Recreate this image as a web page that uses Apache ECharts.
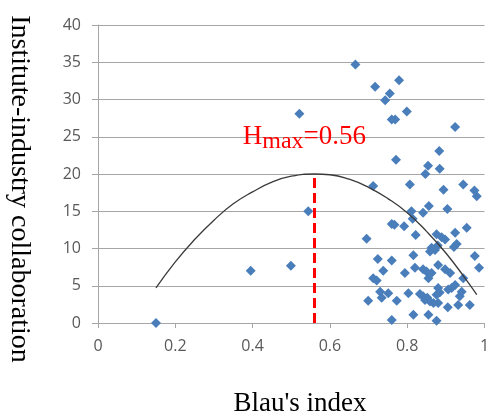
<!DOCTYPE html>
<html lang="en">
<head>
    <meta charset="UTF-8"/>
    <title>Blau's index vs collaboration</title>
    <script src="https://cdn.jsdelivr.net/npm/echarts@6/dist/echarts.min.js"></script>
    <style>
        html, body { margin: 0; padding: 0; background: #fff; }
        #main { width: 486px; height: 418px; }
    </style>
</head>
<body>
<div id="main"></div>
<script type="text/javascript">
    // scatter points: [Blau's index, collaboration]
    var blauIndex = [
        0.150, 0.395, 0.499, 0.544, 0.521, 0.666, 0.717, 0.779, 0.755, 0.743,
        0.799, 0.760, 0.769, 0.924, 0.771, 0.883, 0.854, 0.884, 0.847, 0.807,
        0.712, 0.945, 0.894, 0.974, 0.980, 0.856, 0.811, 0.841, 0.904, 0.814,
        0.760, 0.767, 0.792, 0.695, 0.822, 0.876, 0.889, 0.898, 0.924, 0.954,
        0.928, 0.921, 0.863, 0.872, 0.859, 0.879, 0.816, 0.975, 0.724, 0.760,
        0.880, 0.820, 0.841, 0.850, 0.863, 0.855, 0.898, 0.911, 0.986, 0.738,
        0.794, 0.945, 0.712, 0.721, 0.699, 0.730, 0.751, 0.734, 0.773, 0.803,
        0.833, 0.841, 0.852, 0.846, 0.859, 0.868, 0.880, 0.924, 0.915, 0.906,
        0.880, 0.884, 0.941, 0.936, 0.905, 0.932, 0.962, 0.816, 0.855, 0.760,
        0.876, 0.876
    ];
    var collaboration = [
        0.0, 7.0, 7.7, 15.0, 28.1, 34.7, 31.7, 32.6, 30.8, 29.9,
        28.4, 27.3, 27.3, 26.3, 21.9, 23.1, 21.1, 20.7, 20.0, 18.6,
        18.4, 18.6, 17.9, 17.8, 17.0, 15.7, 15.0, 14.8, 15.3, 14.0,
        13.3, 13.2, 13.0, 11.3, 11.8, 11.9, 11.5, 11.2, 12.1, 12.8,
        10.6, 10.2, 10.1, 9.8, 9.6, 10.4, 9.1, 9.0, 8.6, 8.4,
        7.8, 7.4, 7.2, 6.9, 6.7, 6.0, 7.2, 6.7, 7.4, 7.0,
        6.7, 6.0, 6.0, 5.7, 3.0, 4.2, 4.0, 3.4, 3.0, 4.0,
        3.9, 3.6, 3.4, 3.1, 2.9, 2.7, 2.7, 5.1, 4.7, 4.5,
        4.7, 4.1, 4.2, 3.6, 2.1, 2.4, 2.4, 1.1, 1.1, 0.4,
        0.3, 3.8
    ];

    // fitted curve, read at several points
    var curveX = [0.15, 0.2, 0.25, 0.3, 0.35, 0.4, 0.45, 0.5, 0.56, 0.6, 0.65, 0.7, 0.75, 0.8, 0.85, 0.9, 0.95, 0.98];
    var curveY = [4.7, 8.2, 11.2, 13.8, 16.0, 17.6, 18.9, 19.7, 20.0, 19.9, 19.3, 18.2, 16.7, 14.8, 12.3, 9.4, 6.0, 3.8];

    var hMax = 0.56;
    var hPeak = 20;

    var scatterData = [];
    for (var i = 0; i < blauIndex.length; i++) {
        scatterData.push([blauIndex[i], collaboration[i]]);
    }
    var curveData = [];
    for (var j = 0; j < curveX.length; j++) {
        curveData.push([curveX[j], curveY[j]]);
    }

    var myChart = echarts.init(document.getElementById('main'));

    var labelFont = '"Open Sans", "Liberation Sans", sans-serif';
    var serif = '"Liberation Serif", "DejaVu Serif", serif';

    var option = {
        animation: false,
        grid: { left: 98, right: 1.5, top: 25, bottom: 95, outerBoundsMode: 'none', containLabel: false },
        xAxis: {
            type: 'value',
            min: 0,
            max: 1,
            interval: 0.2,
            axisLine: { lineStyle: { color: '#a6a6a6', width: 1 } },
            axisTick: { show: true, length: 5, lineStyle: { color: '#a6a6a6' } },
            axisLabel: { color: '#595959', fontSize: 16, fontFamily: labelFont, margin: 15 },
            splitLine: { show: false }
        },
        yAxis: {
            type: 'value',
            min: 0,
            max: 40,
            interval: 5,
            axisLine: { show: true, lineStyle: { color: '#a6a6a6', width: 1 } },
            axisTick: { show: true, length: 6, lineStyle: { color: '#a6a6a6' } },
            axisLabel: { color: '#595959', fontSize: 16, fontFamily: labelFont, margin: 17 },
            splitLine: { show: true, lineStyle: { color: '#a6a6a6', width: 1 } }
        },
        graphic: [
            {
                type: 'text',
                x: 19,
                y: 189,
                rotation: -Math.PI / 2,
                style: {
                    text: 'Institute-industry collaboration',
                    fill: '#000',
                    font: '28px ' + serif,
                    textAlign: 'center',
                    textVerticalAlign: 'middle'
                }
            },
            {
                type: 'text',
                x: 300,
                y: 404,
                style: {
                    text: "Blau's index",
                    fill: '#000',
                    font: '27px ' + serif,
                    textAlign: 'center',
                    textVerticalAlign: 'middle'
                }
            }
        ],
        series: [
            {
                type: 'scatter',
                data: scatterData,
                symbol: 'diamond',
                symbolSize: 10,
                itemStyle: { color: '#4a7ebb', opacity: 1 },
                z: 3
            },
            {
                type: 'line',
                data: curveData,
                smooth: true,
                showSymbol: false,
                symbol: 'none',
                lineStyle: { color: '#3a3a3a', width: 1.3 },
                z: 4,
                markLine: {
                    silent: true,
                    symbol: 'none',
                    lineStyle: { color: '#ff0000', type: [10, 5], width: 3 },
                    label: {
                        show: true,
                        position: 'end',
                        distance: 20,
                        offset: [-10, 0],
                        formatter: '{h|H}{s|max}{h|=0.56}',
                        rich: {
                            h: { fontSize: 27, fontFamily: serif, color: '#ff0000', verticalAlign: 'top', lineHeight: 28 },
                            s: { fontSize: 24, fontFamily: serif, color: '#ff0000', verticalAlign: 'top', padding: [7, 0, 0, 0] }
                        }
                    },
                    data: [[{ coord: [hMax, 0] }, { coord: [hMax, hPeak] }]]
                }
            }
        ]
    };

    myChart.setOption(option);
</script>
</body>
</html>
